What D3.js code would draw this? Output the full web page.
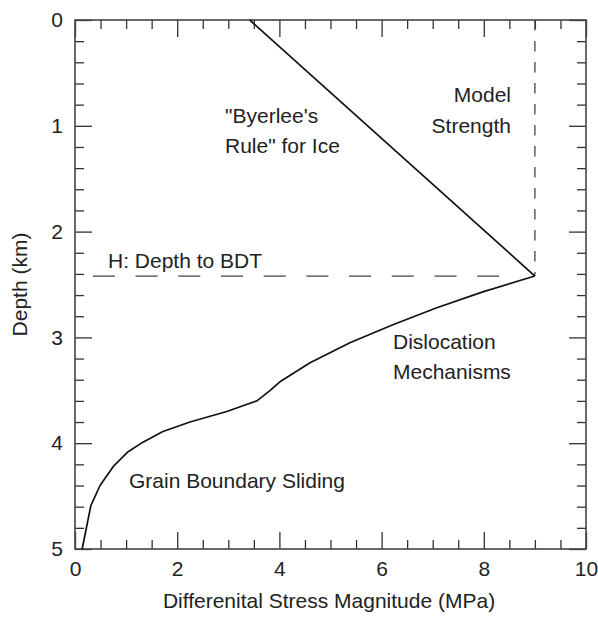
<!DOCTYPE html>
<html><head><meta charset="utf-8">
<script src="https://cdn.jsdelivr.net/npm/d3@7"></script>
<style>
body{margin:0;background:#fff;}
text{font-family:"Liberation Sans",Arial,Helvetica,sans-serif;fill:#222;}
</style></head>
<body><svg id="c" width="598" height="617"></svg>
<script>
// Data
const xTickLabels = [0, 2, 4, 6, 8, 10];
const yTickLabels = [0, 1, 2, 3, 4, 5];
const byerleeStress = [3.42, 9.0];
const byerleeDepth = [0, 2.42];
const ductileStress = [9.0, 7.98, 7.08, 6.22, 5.38, 4.60, 4.01, 3.82, 3.56, 2.97, 2.25, 1.72, 1.33, 1.04, 0.75, 0.49, 0.31, 0.14];
const ductileDepth  = [2.42, 2.57, 2.72, 2.88, 3.05, 3.24, 3.42, 3.50, 3.60, 3.70, 3.80, 3.89, 3.99, 4.08, 4.22, 4.40, 4.59, 5.0];
const bdtDepth = 2.42;
const bdtStressRange = [0.35, 8.55];
const modelStrength = 9.0;

const FS = "21px";
const svg = d3.select("#c");
const L = 75, R = 586, T = 20, B = 549;
const x = d3.scaleLinear().domain([0, 10]).range([L, R]);
const y = d3.scaleLinear().domain([0, 5]).range([T, B]);

const minorX = d3.range(0, 10.001, 0.5).filter(v => Math.abs(v/2 - Math.round(v/2)) > 1e-6);
const minorY = d3.range(0, 5.001, 0.2).map(v => +v.toFixed(2)).filter(v => Math.abs(v - Math.round(v)) > 1e-6);

function styleAxis(g){
  g.select(".domain").remove();
  g.selectAll(".tick line").attr("stroke", "#333").attr("stroke-width", 1.3);
  g.selectAll(".tick text").style("font-size", FS).attr("fill", "#222");
}
// bottom
svg.append("g").attr("transform", `translate(0,${B})`)
  .call(d3.axisBottom(x).tickValues(xTickLabels).tickSize(-17).tickSizeOuter(0).tickPadding(12).tickFormat(d3.format("d")))
  .call(styleAxis);
svg.append("g").attr("transform", `translate(0,${B})`)
  .call(d3.axisBottom(x).tickValues(minorX).tickSize(-9).tickSizeOuter(0).tickFormat(""))
  .call(styleAxis);
// top
svg.append("g").attr("transform", `translate(0,${T})`)
  .call(d3.axisTop(x).tickValues(xTickLabels).tickSize(-17).tickSizeOuter(0).tickFormat(""))
  .call(styleAxis);
svg.append("g").attr("transform", `translate(0,${T})`)
  .call(d3.axisTop(x).tickValues(minorX).tickSize(-9).tickSizeOuter(0).tickFormat(""))
  .call(styleAxis);
// left
svg.append("g").attr("transform", `translate(${L},0)`)
  .call(d3.axisLeft(y).tickValues(yTickLabels).tickSize(-17).tickSizeOuter(0).tickPadding(12).tickFormat(d3.format("d")))
  .call(styleAxis);
svg.append("g").attr("transform", `translate(${L},0)`)
  .call(d3.axisLeft(y).tickValues(minorY).tickSize(-9).tickSizeOuter(0).tickFormat(""))
  .call(styleAxis);
// right
svg.append("g").attr("transform", `translate(${R},0)`)
  .call(d3.axisRight(y).tickValues(yTickLabels).tickSize(-17).tickSizeOuter(0).tickFormat(""))
  .call(styleAxis);
svg.append("g").attr("transform", `translate(${R},0)`)
  .call(d3.axisRight(y).tickValues(minorY).tickSize(-9).tickSizeOuter(0).tickFormat(""))
  .call(styleAxis);

// frame
svg.append("rect").attr("x", L).attr("y", T).attr("width", R - L).attr("height", B - T)
  .attr("fill", "none").attr("stroke", "#444").attr("stroke-width", 1.6);

// dashed lines
svg.append("line").attr("x1", x(bdtStressRange[0])).attr("x2", x(bdtStressRange[1]))
  .attr("y1", y(bdtDepth)).attr("y2", y(bdtDepth))
  .attr("stroke", "#444").attr("stroke-width", 1.3).attr("stroke-dasharray", "22,20.7");
svg.append("line").attr("x1", x(modelStrength)).attr("x2", x(modelStrength))
  .attr("y1", y(0)).attr("y2", y(bdtDepth))
  .attr("stroke", "#444").attr("stroke-width", 1.3).attr("stroke-dasharray", "10.5,10.5");

// curves
const line = d3.line().x(d => x(d[0])).y(d => y(d[1]));
svg.append("path").datum(d3.zip(byerleeStress, byerleeDepth)).attr("d", line)
  .attr("fill", "none").attr("stroke", "#111").attr("stroke-width", 1.7);
svg.append("path").datum(d3.zip(ductileStress, ductileDepth)).attr("d", line)
  .attr("fill", "none").attr("stroke", "#111").attr("stroke-width", 1.7).attr("stroke-linejoin", "round");

// annotations
function label(t, px, py, anchor){
  svg.append("text").attr("x", px).attr("y", py).attr("text-anchor", anchor || "start")
    .style("font-size", FS).text(t);
}
label("\"Byerlee's", 225, 123);
label("Rule\" for Ice", 225, 153);
label("Model", 511, 102, "end");
label("Strength", 511, 133, "end");
label("H: Depth to BDT", 108, 268);
label("Dislocation", 393, 349);
label("Mechanisms", 393, 379);
label("Grain Boundary Sliding", 129, 488);

// axis titles
svg.append("text").attr("x", 329).attr("y", 608).attr("text-anchor", "middle")
  .style("font-size", FS).text("Differenital Stress Magnitude (MPa)");
svg.append("text").attr("transform", `translate(27,${(T + B) / 2}) rotate(-90)`).attr("text-anchor", "middle")
  .style("font-size", FS).text("Depth (km)");
</script></body></html>
